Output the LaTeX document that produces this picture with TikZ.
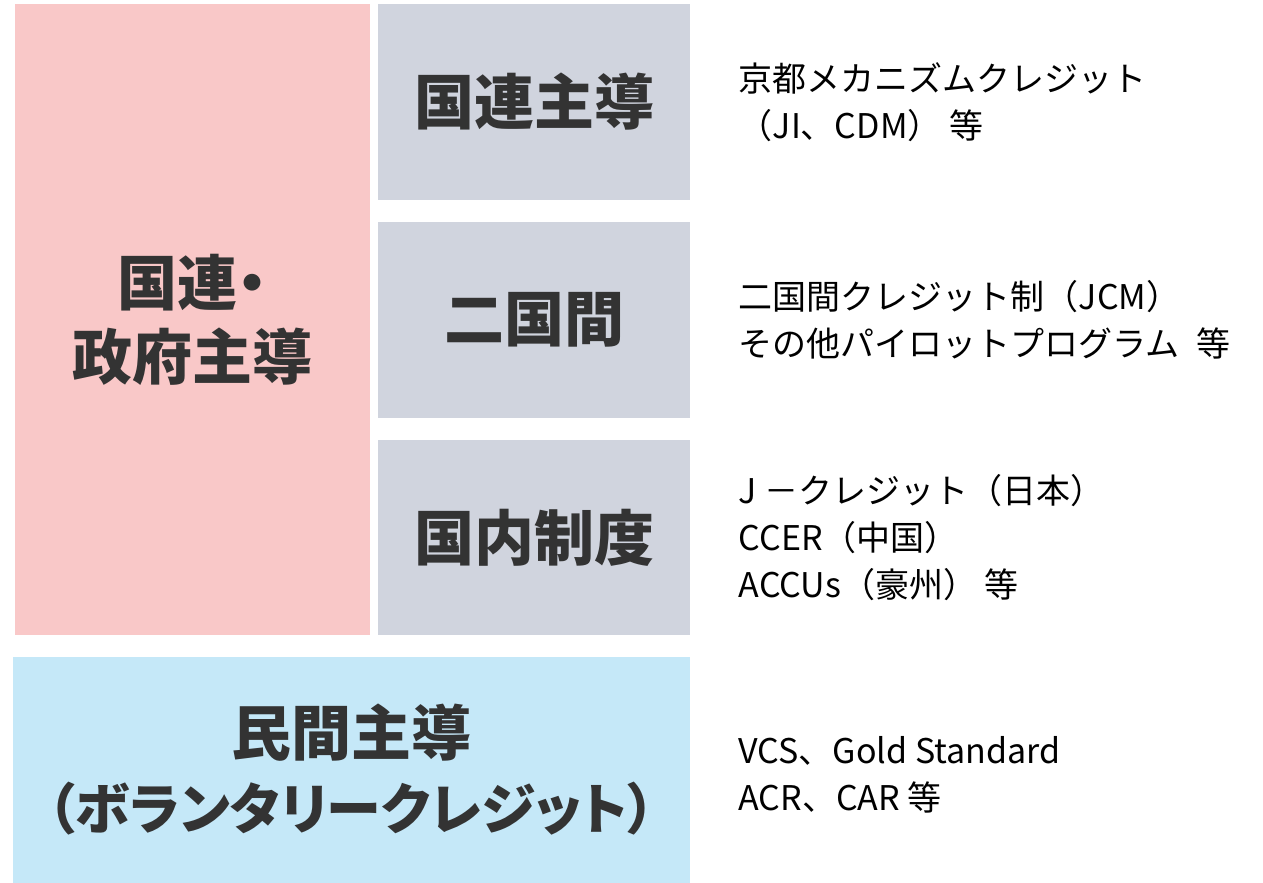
\documentclass[tikz,border=0pt]{standalone}
\usepackage{fontspec}
\usepackage{xcolor}
\setmainfont{Noto Sans CJK JP}
\newfontfamily\labelfont{Noto Sans CJK JP}[RawFeature=+palt]
\definecolor{govpink}{RGB}{249, 200, 200}
\definecolor{unigray}{RGB}{208, 212, 222}
\definecolor{privblue}{RGB}{197, 232, 248}
\definecolor{labeltext}{RGB}{51, 51, 51}
\usetikzlibrary{positioning}

\tikzset{
    catbox/.style={inner sep=0pt, align=center, text=labeltext,
                   font=\labelfont\bfseries\fontsize{30}{37}\selectfont},
    notetext/.style={inner sep=0pt, align=left, text=black,
                     font=\fontsize{17}{23.5}\selectfont},
}

\begin{document}
\begin{tikzpicture}[x=0.5pt, y=-0.5pt]
    \useasboundingbox (0,0) rectangle (1263,883);

    % left column and the three rows
    \node[catbox, fill=govpink, minimum width=177.5pt, minimum height=315.5pt] (gov) at (192.5,319.5) {国連・\\政府主導};
    \node[catbox, fill=unigray, minimum width=156pt, minimum height=98pt] (un) at (534,102) {国連主導};
    \node[catbox, fill=unigray, minimum width=156pt, minimum height=98pt] (bilat) at (534,320) {二国間};
    \node[catbox, fill=unigray, minimum width=156pt, minimum height=97.5pt] (domestic) at (534,537.5) {国内制度};
    \node[catbox, fill=privblue, minimum width=338.5pt, minimum height=113pt] (private) at (351.5,770)
        {民間主導\\{\fontsize{27.5}{37}\selectfont （ボランタリークレジット）}};

    % examples
    \node[notetext, right=24pt of un] (unnote) {京都メカニズムクレジット\\（JI、CDM） 等};
    \node[notetext, right=24pt of bilat] (bilatnote) {二国間クレジット制（JCM）\\その他パイロットプログラム\hspace{0.5em}等};
    \node[notetext, right=24pt of domestic] (domnote) {J －クレジット（日本）\\CCER（中国）\\ACCUs（豪州） 等};
    \node[notetext, anchor=west] (privnote) at (738,775) {VCS、Gold Standard\\ACR、CAR 等};
\end{tikzpicture}
\end{document}
